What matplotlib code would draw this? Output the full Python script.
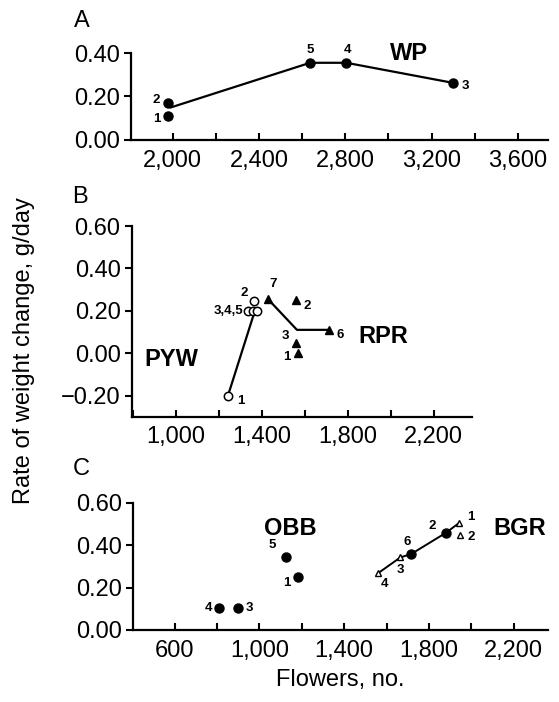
"""
Rate of weight change vs flowers, three panels (A, B, C).
"""
import numpy as np
from matplotlib import pyplot as plt, ticker

# ---- data -----------------------------------------------------------------
# panel A, WP
wp_labels = ["1", "2", "3", "4", "5"]
wp_flowers = [1977, 1977, 3298, 2805, 2637]
wp_rate = [0.11, 0.17, 0.263, 0.355, 0.355]

# panel B, PYW (open circles)
pyw_labels = ["1", "2", "3", "4", "5"]
pyw_flowers = [1243, 1363, 1338, 1357, 1378]
pyw_rate = [-0.20, 0.245, 0.20, 0.20, 0.20]

# panel B, RPR (filled triangles)
rpr_labels = ["1", "2", "3", "6", "7"]
rpr_flowers = [1569, 1561, 1561, 1712, 1429]
rpr_rate = [0.00, 0.25, 0.05, 0.11, 0.255]

# panel C, OBB (filled circles)
obb_labels = ["1", "3", "4", "5"]
obb_flowers = [1181, 899, 811, 1125]
obb_rate = [0.25, 0.105, 0.105, 0.342]

# panel C, BGR (filled circles and open triangles)
bgr_dot_labels = ["2", "6"]
bgr_dot_flowers = [1880, 1716]
bgr_dot_rate = [0.458, 0.358]
bgr_tri_labels = ["1", "2", "3", "4"]
bgr_tri_flowers = [1943, 1946, 1665, 1559]
bgr_tri_rate = [0.505, 0.45, 0.342, 0.267]

# tick values
a_xticks = [2000, 2400, 2800, 3200, 3600]
a_yticks = [0.0, 0.2, 0.4]
b_xticks = [1000, 1400, 1800, 2200]
b_yticks = [-0.2, 0.0, 0.2, 0.4, 0.6]
c_xticks = [600, 1000, 1400, 1800, 2200]
c_yticks = [0.0, 0.2, 0.4, 0.6]

plt.rcParams['font.family'] = ['Liberation Sans', 'DejaVu Sans']
plt.rcParams['axes.unicode_minus'] = True

TICK_FS = 17
NAME_FS = 17
NUM_FS = 9.5


def style_axes(ax, xlim, ylim, xticks, yticks):
    ax.set_xlim(*xlim)
    ax.set_ylim(*ylim)
    for side in ['top', 'right']:
        ax.spines[side].set_visible(False)
    for side in ['left', 'bottom']:
        ax.spines[side].set_linewidth(1.6)
    ax.set_xticks(xticks)
    ax.xaxis.set_minor_locator(ticker.MultipleLocator(200))
    ax.xaxis.set_major_formatter(ticker.FuncFormatter(lambda v, _: '{:,.0f}'.format(v)))
    ax.set_yticks(yticks)
    ax.yaxis.set_major_formatter(
        ticker.FuncFormatter(lambda v, _: ('{:.2f}'.format(v)).replace('-', '\u2212')))
    ax.tick_params(axis='x', which='both', direction='in', length=5, width=1.5,
                   labelsize=TICK_FS, pad=7)
    ax.tick_params(axis='y', direction='out', length=5, width=1.5, labelsize=TICK_FS, pad=3)


def label_points(ax, xs, ys, labels, offsets):
    for x, y, s in zip(xs, ys, labels):
        dx, dy = offsets.get(s, (8, 0))
        ax.annotate(s, (x, y), xytext=(dx, dy), textcoords='offset points',
                    ha='center', va='center', fontsize=NUM_FS, fontweight='bold')


fig = plt.figure(figsize=(5.59, 7.02), dpi=100)
axA = fig.add_axes([0.2338, 0.8006, 0.7465, 0.1239])
axB = fig.add_axes([0.2356, 0.4064, 0.6088, 0.2716])
axC = fig.add_axes([0.2385, 0.1026, 0.7419, 0.1813])

# ---- panel A ----------------------------------------------------------------
style_axes(axA, (1805, 3740), (0, 0.40), a_xticks, a_yticks)
wp_line_x = [np.mean(wp_flowers[:2]) + 15, wp_flowers[4], wp_flowers[3], wp_flowers[2]]
wp_line_y = [np.mean(wp_rate[:2]) + 0.01, wp_rate[4], wp_rate[3], wp_rate[2]]
axA.plot(wp_line_x, wp_line_y, color='black', lw=1.6, zorder=2)
axA.plot(wp_flowers, wp_rate, 'o', color='black', ms=6.5, zorder=3, clip_on=False)
label_points(axA, wp_flowers, wp_rate, wp_labels,
             {"1": (-8, -2), "2": (-8, 2), "3": (9, -2), "4": (1, 9), "5": (0, 9)})
axA.text(3094, 0.40, "WP", fontsize=NAME_FS, fontweight='bold', ha='center', va='center')

# ---- panel B ----------------------------------------------------------------
style_axes(axB, (795, 2378), (-0.30, 0.60), b_xticks, b_yticks)
pyw_line_x = [pyw_flowers[0], np.mean(pyw_flowers[1:])]
pyw_line_y = [pyw_rate[0], np.mean(pyw_rate[1:]) - 0.04]
axB.plot(pyw_line_x, pyw_line_y, color='black', lw=1.6, zorder=2)
axB.plot(pyw_flowers, pyw_rate, 'o', mfc='white', mec='black', mew=1.1, ms=6, zorder=3)
label_points(axB, pyw_flowers[:2], pyw_rate[:2], pyw_labels[:2],
             {"1": (9, -4), "2": (-7, 6)})
axB.annotate("3,4,5", (pyw_flowers[2], pyw_rate[2]), xytext=(-4, 0),
             textcoords='offset points', ha='right', va='center',
             fontsize=NUM_FS, fontweight='bold')

rpr_mid_x = np.mean(rpr_flowers[:3])
rpr_mid_y = np.mean(rpr_rate[:3]) + 0.01
axB.plot([rpr_flowers[4], rpr_mid_x, rpr_flowers[3]],
         [rpr_rate[4], rpr_mid_y, rpr_rate[3]], color='black', lw=1.6, zorder=2)
axB.plot(rpr_flowers, rpr_rate, '^', color='black', ms=6, zorder=3)
label_points(axB, rpr_flowers, rpr_rate, rpr_labels,
             {"1": (-8, -3), "2": (8, -4), "3": (-8, 5), "6": (8, -4), "7": (4, 11)})
axB.text(980, -0.03, "PYW", fontsize=NAME_FS, fontweight='bold', ha='center', va='center')
axB.text(1963, 0.078, "RPR", fontsize=NAME_FS, fontweight='bold', ha='center', va='center')

# ---- panel C ----------------------------------------------------------------
style_axes(axC, (405, 2362), (0, 0.60), c_xticks, c_yticks)
axC.plot(obb_flowers, obb_rate, 'o', color='black', ms=6.5, zorder=3)
label_points(axC, obb_flowers, obb_rate, obb_labels,
             {"1": (-8, -4), "3": (8, 0), "4": (-8, 0), "5": (-10, 9)})

bgr_line_x = [bgr_tri_flowers[3], bgr_tri_flowers[2], bgr_dot_flowers[1],
              bgr_dot_flowers[0], bgr_tri_flowers[0]]
bgr_line_y = [bgr_tri_rate[3], bgr_tri_rate[2], bgr_dot_rate[1],
              bgr_dot_rate[0], bgr_tri_rate[0]]
axC.plot(bgr_line_x, bgr_line_y, color='black', lw=1.4, zorder=2)
axC.plot(bgr_dot_flowers, bgr_dot_rate, 'o', color='black', ms=6.5, zorder=3)
axC.plot(bgr_tri_flowers, bgr_tri_rate, '^', mfc='white', mec='black', mew=1.0,
         ms=5, zorder=3)
label_points(axC, bgr_dot_flowers, bgr_dot_rate, bgr_dot_labels,
             {"2": (-10, 5), "6": (-3, 9)})
label_points(axC, bgr_tri_flowers, bgr_tri_rate, bgr_tri_labels,
             {"1": (8, 4), "2": (8, -2), "3": (0, -9), "4": (5, -8)})
axC.text(1146, 0.48, "OBB", fontsize=NAME_FS, fontweight='bold', ha='center', va='center')
axC.text(2229, 0.48, "BGR", fontsize=NAME_FS, fontweight='bold', ha='center', va='center')

# ---- panel letters and axis titles -----------------------------------------
fig.text(0.1467, 0.970, "A", fontsize=TICK_FS, ha='center', va='center')
fig.text(0.143, 0.719, "B", fontsize=TICK_FS, ha='center', va='center')
fig.text(0.145, 0.332, "C", fontsize=TICK_FS, ha='center', va='center')
fig.text(0.043, 0.50, "Rate of weight change, g/day", fontsize=17,
         rotation=90, ha='center', va='center')
fig.text(0.608, 0.031, "Flowers, no.", fontsize=17, ha='center', va='center')

plt.savefig("out.png", dpi=100)
